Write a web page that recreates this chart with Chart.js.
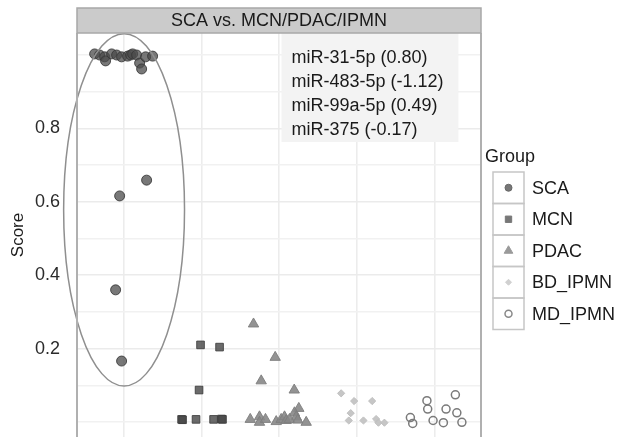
<!DOCTYPE html>
<html>
<head>
<meta charset="utf-8">
<script src="https://cdn.jsdelivr.net/npm/chart.js@4/dist/chart.umd.min.js"></script>
<style>
  html, body { margin: 0; padding: 0; background: #fff; }
</style>
</head>
<body>
<canvas id="scoreChart" width="619" height="437"></canvas>
<script>
// ==========================
// DATA
// ==========================
const groups = ["SCA", "MCN", "PDAC", "BD_IPMN", "MD_IPMN"];
const panelTitle = "SCA vs. MCN/PDAC/IPMN";
const markerLines = ["miR-31-5p (0.80)", "miR-483-5p (-1.12)", "miR-99a-5p (0.49)", "miR-375 (-0.17)"];
const yGrid = [0, 0.1, 0.2, 0.3, 0.4, 0.5, 0.6, 0.7, 0.8, 0.9, 1.0];
const yLabelled = [0.2, 0.4, 0.6, 0.8];
const xGrid = [1, 2, 3, 4, 5];

// jittered x position (group index 1..5) and score
const scaX = [0.627, 0.691, 0.756, 0.768, 0.846, 0.910, 0.974, 1.051, 1.090, 1.116, 1.167, 1.206, 1.232, 1.283, 1.373, 0.949, 1.296, 0.897, 0.974];
const scaY = [1.003, 1.000, 0.995, 0.984, 1.003, 1.000, 0.995, 0.997, 1.000, 1.003, 1.000, 0.978, 0.962, 0.995, 0.997, 0.616, 0.659, 0.360, 0.166];

const mcnX = [1.746, 1.759, 1.932, 2.158, 2.260, 2.273, 1.971, 1.990, 2.235];
const mcnY = [0.007, 0.006, 0.007, 0.007, 0.008, 0.007, 0.087, 0.210, 0.204];

const pdacX = [2.672, 2.951, 2.771, 3.196, 3.255, 3.199, 3.221, 2.630, 2.749, 2.749, 2.826, 2.964, 3.028, 3.071, 3.093, 3.135, 3.242, 3.350];
const pdacY = [0.267, 0.176, 0.112, 0.087, 0.037, 0.025, 0.014, 0.007, 0.014, -0.001, 0.007, 0.001, 0.007, 0.014, 0.004, 0.007, 0.005, -0.001];

const bdX = [3.800, 3.967, 4.199, 3.923, 3.898, 4.087, 4.250, 4.280, 4.357];
const bdY = [0.078, 0.057, 0.057, 0.024, 0.004, 0.004, 0.008, -0.002, -0.002];

const mdX = [4.691, 4.721, 4.904, 4.914, 4.983, 5.116, 5.150, 5.270, 5.289, 5.354];
const mdY = [0.012, -0.004, 0.058, 0.035, 0.004, -0.002, 0.035, 0.074, 0.025, -0.001];

// ellipse round the SCA group (data units)
const scaEllipse = { cx: 1.006, cy: 0.578, rx: 0.778, ry: 0.48 };

function toPoints(xs, ys) {
  return xs.map((x, i) => ({ x: x, y: ys[i] }));
}

const FONT = "'Liberation Sans', Arial, Helvetica, sans-serif";
Chart.defaults.font.family = FONT;

const styles = [
  { pointStyle: "circle", radius: 5, bg: "rgba(75,75,75,0.75)", border: "rgba(55,55,55,0.85)", bw: 1, legendR: 3.5, legendBg: "#777", legendBorder: "#666" },
  { pointStyle: "rect", radius: 5.4, bg: "rgba(70,70,70,0.8)", border: "rgba(60,60,60,0.85)", bw: 1, legendR: 4.5, legendBg: "#777", legendBorder: "#777" },
  { pointStyle: "triangle", radius: 6, bg: "rgba(135,135,135,0.9)", border: "rgba(125,125,125,0.9)", bw: 1, legendR: 5, legendBg: "#9a9a9a", legendBorder: "#9a9a9a" },
  { pointStyle: "rectRot", radius: 3.6, bg: "rgba(195,195,195,0.95)", border: "rgba(190,190,190,0.95)", bw: 1, legendR: 3, legendBg: "#d0d0d0", legendBorder: "#d0d0d0" },
  { pointStyle: "circle", radius: 4, bg: "rgba(0,0,0,0)", border: "#7a7a7a", bw: 1.5, legendR: 3.5, legendBg: "rgba(0,0,0,0)", legendBorder: "#888" },
];

const seriesX = [scaX, mcnX, pdacX, bdX, mdX];
const seriesY = [scaY, mcnY, pdacY, bdY, mdY];

const datasets = groups.map((g, i) => ({
  label: g,
  data: toPoints(seriesX[i], seriesY[i]),
  pointStyle: styles[i].pointStyle,
  pointRadius: styles[i].radius,
  pointBackgroundColor: styles[i].bg,
  pointBorderColor: styles[i].border,
  pointBorderWidth: styles[i].bw,
}));

// ==========================
// DECORATION PLUGIN (strip, box, ellipse, legend)
// ==========================
const decor = {
  id: "decor",
  beforeDatasetsDraw(chart) {
    const { ctx, chartArea, scales } = chart;
    // annotation box
    const x0 = scales.x.getPixelForValue(3.032);
    const x1 = scales.x.getPixelForValue(5.309);
    const yb = scales.y.getPixelForValue(0.763);
    ctx.save();
    ctx.fillStyle = "#f3f3f3";
    ctx.fillRect(x0, chartArea.top, x1 - x0, yb - chartArea.top);
    ctx.fillStyle = "#1a1a1a";
    ctx.font = "18px " + FONT;
    ctx.textBaseline = "middle";
    ctx.textAlign = "left";
    markerLines.forEach((t, i) => {
      ctx.fillText(t, x0 + 10, chartArea.top + 25 + i * 24);
    });
    ctx.restore();
  },
  afterDatasetsDraw(chart) {
    const { ctx, scales } = chart;
    const cx = scales.x.getPixelForValue(scaEllipse.cx);
    const cy = scales.y.getPixelForValue(scaEllipse.cy);
    const rx = scales.x.getPixelForValue(scaEllipse.cx + scaEllipse.rx) - cx;
    const ry = cy - scales.y.getPixelForValue(scaEllipse.cy + scaEllipse.ry);
    ctx.save();
    ctx.strokeStyle = "#8f8f8f";
    ctx.lineWidth = 1.5;
    ctx.beginPath();
    ctx.ellipse(cx, cy, rx, ry, 0, 0, Math.PI * 2);
    ctx.stroke();
    ctx.restore();
  },
  afterDraw(chart) {
    const { ctx, chartArea } = chart;
    ctx.save();
    // panel border left / right
    ctx.strokeStyle = "#b0b0b0";
    ctx.lineWidth = 2;
    ctx.beginPath();
    ctx.moveTo(chartArea.left, chartArea.top);
    ctx.lineTo(chartArea.left, chartArea.bottom);
    ctx.moveTo(chartArea.right, chartArea.top);
    ctx.lineTo(chartArea.right, chartArea.bottom);
    ctx.stroke();

    // strip
    const sTop = 8;
    ctx.fillStyle = "#cbcbcb";
    ctx.fillRect(chartArea.left, sTop, chartArea.right - chartArea.left, chartArea.top - sTop);
    ctx.strokeStyle = "#a8a8a8";
    ctx.lineWidth = 1.5;
    ctx.strokeRect(chartArea.left, sTop, chartArea.right - chartArea.left, chartArea.top - sTop);
    ctx.fillStyle = "#1a1a1a";
    ctx.font = "18px " + FONT;
    ctx.textAlign = "center";
    ctx.textBaseline = "middle";
    ctx.fillText(panelTitle, (chartArea.left + chartArea.right) / 2, (sTop + chartArea.top) / 2 + 1);

    // legend
    const lx = chartArea.right + 4;
    ctx.textAlign = "left";
    ctx.fillText("Group", lx, 157);
    const keyX = 493, keyW = 31, keyTop = 172, keyH = 31.5;
    groups.forEach((g, i) => {
      const ky = keyTop + i * keyH;
      ctx.strokeStyle = "#c6c6c6";
      ctx.lineWidth = 1.5;
      ctx.strokeRect(keyX, ky, keyW, keyH);
      const st = styles[i];
      ctx.fillStyle = st.legendBg;
      ctx.strokeStyle = st.legendBorder;
      ctx.lineWidth = st.bw;
      const opts = { pointStyle: st.pointStyle, radius: st.legendR, rotation: 0, borderWidth: st.bw };
      if (Chart.helpers && Chart.helpers.drawPoint) {
        Chart.helpers.drawPoint(ctx, opts, keyX + keyW / 2, ky + keyH / 2);
      } else {
        ctx.beginPath();
        ctx.arc(keyX + keyW / 2, ky + keyH / 2, st.legendR, 0, Math.PI * 2);
        ctx.fill();
        ctx.stroke();
      }
      ctx.fillStyle = "#1a1a1a";
      ctx.fillText(g, 532, ky + keyH / 2 + 1);
    });
    ctx.restore();
  },
};

// ==========================
// CHART
// ==========================
new Chart(document.getElementById("scoreChart"), {
  type: "scatter",
  data: { datasets: datasets },
  options: {
    responsive: false,
    animation: false,
    devicePixelRatio: 1,
    layout: { autoPadding: false, padding: { left: 0, right: 138, top: 33, bottom: 0 } },
    plugins: {
      legend: { display: false },
      tooltip: { enabled: false },
    },
    scales: {
      x: {
        type: "linear",
        min: 0.4,
        max: 5.6,
        afterBuildTicks: (s) => { s.ticks = xGrid.map((v) => ({ value: v })); },
        afterFit: (s) => { s.height = 0; },
        ticks: { display: false },
        border: { display: false },
        grid: { color: "#ececec", lineWidth: 1.6, drawTicks: false },
      },
      y: {
        type: "linear",
        min: -0.041,
        max: 1.06,
        afterBuildTicks: (s) => { s.ticks = yGrid.map((v) => ({ value: v })); },
        afterFit: (s) => {
          s.width = 77;
          // the panel runs to the bottom edge of the picture
          s.paddingTop = 0;
          s.paddingBottom = 0;
        },
        ticks: {
          padding: 17,
          color: "#2b2b2b",
          font: { size: 18 },
          callback: (v) => (yLabelled.some((l) => Math.abs(l - v) < 1e-6) ? v.toFixed(1) : ""),
        },
        border: { display: false },
        grid: {
          drawTicks: false,
          color: (c) => (yLabelled.some((l) => Math.abs(l - c.tick.value) < 1e-6) ? "#ebebeb" : "#f1f1f1"),
          lineWidth: 1.5,
        },
        title: {
          display: true,
          text: "Score",
          color: "#1a1a1a",
          font: { size: 17 },
          padding: { top: 8, bottom: 0 },
        },
      },
    },
  },
  plugins: [decor],
});
</script>
</body>
</html>
